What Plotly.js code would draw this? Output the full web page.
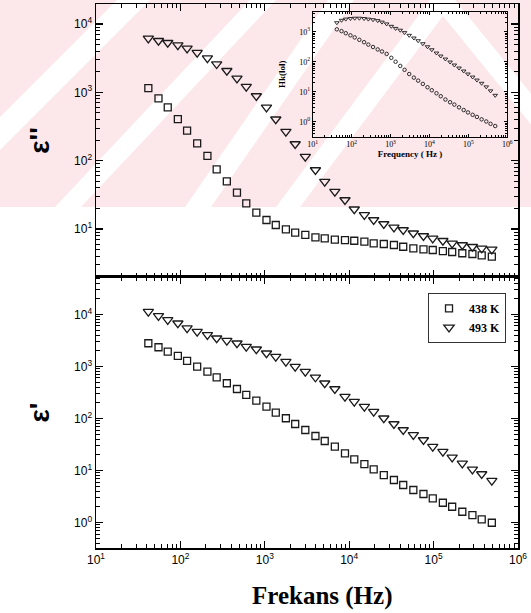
<!DOCTYPE html>
<html>
<head>
<meta charset="utf-8">
<script src="https://cdn.plot.ly/plotly-3.0.1.min.js"></script>
<style>html,body{margin:0;padding:0;background:#fff;}#chart{width:531px;height:613px;}</style>
</head>
<body>
<div id="chart"></div>
<script>
// ---- data ----
const freq = [41.7, 55, 70.8, 93.3, 120, 158, 209, 269, 355, 468, 603, 794, 1047, 1349, 1778, 2291, 3020, 3981, 5129, 6761, 8913, 11482, 15136, 19498, 25704, 33884, 43652, 57544, 75858, 97724, 128825, 165959, 218776, 288403, 371535, 489779];
const seriesNames = ["438 K", "493 K"];
const epsImag438 = [1150, 817, 603, 406, 274, 179, 117, 74.6, 49.8, 33.9, 23.7, 17.3, 13.5, 11.4, 9.86, 8.79, 8.15, 7.53, 7.28, 6.95, 6.87, 6.71, 6.50, 6.15, 6.01, 5.81, 5.48, 5.20, 5.02, 4.91, 4.74, 4.59, 4.40, 4.29, 4.10, 3.92];
const epsImag493 = [6170, 5690, 5320, 4900, 4405, 3800, 3160, 2594, 2070, 1603, 1208, 883, 603, 403, 265, 175, 114, 72.8, 49.1, 35.1, 26.5, 19.4, 16.0, 13.5, 11.8, 10.5, 9.64, 8.63, 7.87, 7.28, 6.71, 6.15, 5.81, 5.48, 5.20, 5.02];
const epsReal438 = [2793, 2339, 1928, 1592, 1276, 991, 794, 619, 475, 369, 283, 220, 169, 129, 101, 78.3, 60.1, 46.0, 36.9, 28.7, 21.4, 16.4, 13.3, 10.5, 8.18, 6.56, 5.26, 4.22, 3.53, 2.92, 2.40, 2.01, 1.61, 1.39, 1.15, 0.99];
const epsReal493 = [11320, 9354, 7834, 6776, 5433, 4667, 4036, 3483, 3133, 2793, 2404, 2143, 1795, 1542, 1236, 991, 794, 619, 475, 369, 262, 210, 169, 135, 101, 78.3, 60.1, 48.2, 38.6, 28.7, 23.0, 17.9, 13.7, 10.5, 8.57, 6.37];
const insetUpper = [1995, 2399, 2630, 2754, 2818, 2818, 2754, 2630, 2512, 2344, 2089, 1820, 1514, 1288, 1122, 933, 759, 617, 501, 398, 316, 251, 195, 155, 123, 97.7, 77.6, 61.7, 49.0, 38.9, 30.9, 24.5, 19.1, 14.5, 10.7, 7.59];
const insetLower = [1202, 1047, 891, 759, 646, 537, 447, 372, 309, 257, 219, 182, 135, 100, 72.4, 53.7, 38.9, 29.5, 23.4, 18.2, 14.1, 11.2, 8.91, 7.08, 5.50, 4.47, 3.72, 3.02, 2.45, 2.04, 1.70, 1.45, 1.20, 1.02, 0.85, 0.72];
const xTickVals = [10, 100, 1000, 10000, 100000, 1000000];
const xTickText = ["10<sup>1</sup>", "10<sup>2</sup>", "10<sup>3</sup>", "10<sup>4</sup>", "10<sup>5</sup>", "10<sup>6</sup>"];
const yTickVals = [1, 10, 100, 1000, 10000];
const yTickText = ["10<sup>0</sup>", "10<sup>1</sup>", "10<sup>2</sup>", "10<sup>3</sup>", "10<sup>4</sup>"];
const insetYTickVals = [1, 10, 100, 1000];
const insetYTickText = ["10<sup>0</sup>", "10<sup>1</sup>", "10<sup>2</sup>", "10<sup>3</sup>"];

// ---- styling ----
const INK = '#1a1a1a';
const sqMarker = {symbol: 'square-open', size: 7, color: INK, line: {width: 1.3, color: INK}};
const triMarker = {symbol: 'triangle-down-open', size: 9, color: INK, line: {width: 1.3, color: INK}};

const traces = [
  {x: freq, y: epsImag438, xaxis: 'x2', yaxis: 'y2', mode: 'markers', marker: sqMarker, showlegend: false, name: seriesNames[0]},
  {x: freq, y: epsImag493, xaxis: 'x2', yaxis: 'y2', mode: 'markers', marker: triMarker, showlegend: false, name: seriesNames[1]},
  {x: freq, y: epsReal438, xaxis: 'x', yaxis: 'y', mode: 'markers', marker: sqMarker, name: seriesNames[0]},
  {x: freq, y: epsReal493, xaxis: 'x', yaxis: 'y', mode: 'markers', marker: triMarker, name: seriesNames[1]},
  {x: freq, y: insetUpper, xaxis: 'x3', yaxis: 'y3', mode: 'markers', showlegend: false,
   marker: {symbol: 'triangle-down-open', size: 4, color: INK, line: {width: 0.9, color: INK}}},
  {x: freq, y: insetLower, xaxis: 'x3', yaxis: 'y3', mode: 'markers', showlegend: false,
   marker: {symbol: 'circle-open', size: 3.5, color: INK, line: {width: 0.9, color: INK}}}
];

// minor tick positions (2..9 x each decade) - styling only
const minorVals = [];
for (let e = -1; e <= 6; e++) for (let m = 2; m <= 9; m++) minorVals.push(m * Math.pow(10, e));

const tickFont = {family: 'Liberation Sans, Arial, sans-serif', size: 12, color: '#000'};
function logAxis(extra) {
  return Object.assign({
    type: 'log', showline: true, linecolor: '#000', linewidth: 1.5, mirror: 'allticks',
    ticks: 'inside', ticklen: 7, tickwidth: 1.2, tickcolor: '#000',
    showgrid: false, zeroline: false, tickfont: tickFont
  }, extra);
}
function minorAxis(overlay, anchor, range, len) {
  return {type: 'log', overlaying: overlay, anchor: anchor, range: range, tickmode: 'array', tickvals: minorVals,
    ticks: 'inside', ticklen: len, tickwidth: 1, tickcolor: '#000', showticklabels: false,
    showline: false, mirror: 'ticks', showgrid: false, zeroline: false};
}
const xT = {tickmode: 'array', tickvals: xTickVals, ticktext: xTickText};
const yT = {tickmode: 'array', tickvals: yTickVals, ticktext: yTickText};

// invisible helper traces so the minor-tick overlay axes exist
[['x4', 'y4'], ['x5', 'y5'], ['x6', 'y6']].forEach(p => {
  traces.push({x: [null], y: [null], xaxis: p[0], yaxis: p[1], mode: 'markers', showlegend: false, hoverinfo: 'skip'});
});

// page pixel -> paper (plot area: left 96, right 518, top 4, bottom 548)
const PX = p => (p - 96) / 422;
const PY = p => (548 - p) / 544;
function poly(pts, color) {
  let d = pts.map((p, i) => (i ? 'L' : 'M') + PX(p[0]).toFixed(4) + ',' + PY(p[1]).toFixed(4)).join(' ') + ' Z';
  return {type: 'path', xref: 'paper', yref: 'paper', path: d, fillcolor: color, line: {width: 0}, layer: 'below'};
}
const PINK = 'rgb(252,231,235)';
const BOT = 207;
const shapes = [poly([[0, 0], [531, 0], [531, BOT], [0, BOT]], PINK)];
[
  [[117, 150], [-90, -57]],
  [[250, 276], [55, 81]],
  [[328, 354], [185, 211]],
  [[430, 455], [276, 300]],
  [[430, 455], [598, 623]]
].forEach(b => {
  shapes.push(poly([[b[0][0], 0], [b[0][1], 0], [b[1][1], BOT], [b[1][0], BOT]], '#fff'));
});

const rngX = [1, 6], rngY = [-0.49, 4.72], rngY2 = [0.296, 4.293], rngY3 = [-0.5, 3.67];
const insetTickFont = {family: 'Liberation Serif, serif', size: 8, color: '#000'};
const layout = {
  width: 531, height: 613,
  margin: {l: 96, r: 13, t: 4, b: 65},
  paper_bgcolor: '#fff', plot_bgcolor: 'rgba(0,0,0,0)',
  showlegend: true,
  legend: {x: 0.9716, xanchor: 'right', y: 0.469, yanchor: 'top', bgcolor: '#fff',
    bordercolor: '#333', borderwidth: 1,
    font: {family: 'Liberation Serif, Times New Roman, serif', size: 12, weight: 'bold', color: '#000'},
    tracegroupgap: 0},
  xaxis: logAxis(Object.assign({range: rngX, domain: [0, 1], anchor: 'y'}, xT)),
  yaxis: logAxis(Object.assign({range: rngY, domain: [0, 0.4982], anchor: 'x',
    title: {text: "ε'", standoff: 16, font: {family: 'Liberation Sans, Arial, sans-serif', size: 28, weight: 'bold', color: '#000'}}}, yT)),
  xaxis2: logAxis(Object.assign({range: rngX, domain: [0, 1], anchor: 'y2', showticklabels: false}, xT)),
  yaxis2: logAxis(Object.assign({range: rngY2, domain: [0.4982, 1], anchor: 'x2',
    title: {text: "ε''", standoff: 16, font: {family: 'Liberation Sans, Arial, sans-serif', size: 28, weight: 'bold', color: '#000'}}}, yT)),
  xaxis3: logAxis(Object.assign({range: rngX, domain: [0.5135, 0.9746], anchor: 'y3', linewidth: 1, ticklen: 3, tickwidth: 1,
    tickfont: insetTickFont,
    title: {text: 'Frequency ( Hz )', standoff: 2, font: {family: 'Liberation Serif, serif', size: 9, weight: 'bold', color: '#000'}}}, xT)),
  yaxis3: logAxis({range: rngY3, domain: [0.756, 0.986], anchor: 'x3', linewidth: 1, ticklen: 3, tickwidth: 1,
    tickfont: insetTickFont, tickmode: 'array', tickvals: insetYTickVals, ticktext: insetYTickText,
    title: {text: 'Hk(lol)', standoff: 12, font: {family: 'Liberation Serif, serif', size: 9, weight: 'bold', color: '#000'}}}),
  xaxis4: minorAxis('x', 'y', rngX, 4),
  yaxis4: minorAxis('y', 'x', rngY, 4),
  xaxis5: minorAxis('x2', 'y2', rngX, 4),
  yaxis5: minorAxis('y2', 'x2', rngY2, 4),
  xaxis6: minorAxis('x3', 'y3', rngX, 2),
  yaxis6: minorAxis('y3', 'x3', rngY3, 2),
  annotations: [
    {text: 'Frekans (Hz)', xref: 'paper', yref: 'paper', x: 0.536, y: (548 - 596) / 544, xanchor: 'center', yanchor: 'middle',
     showarrow: false, font: {family: 'Liberation Serif, Times New Roman, serif', size: 25, weight: 'bold', color: '#000'}}
  ],
  shapes: shapes
};

Plotly.newPlot('chart', traces, layout, {staticPlot: true, displayModeBar: false});
</script>
</body>
</html>
